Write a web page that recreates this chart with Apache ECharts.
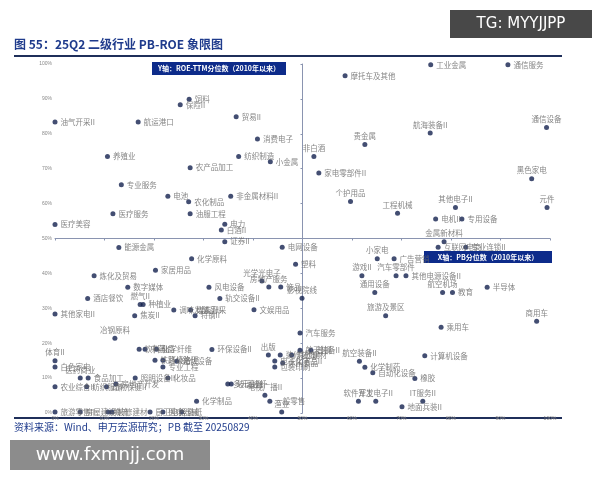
<!DOCTYPE html>
<html><head><meta charset="utf-8">
<script src="https://cdn.jsdelivr.net/npm/echarts@6/dist/echarts.min.js"></script>
<style>html,body{margin:0;padding:0;background:#fff}#c{width:600px;height:480px}</style>
</head><body><div id="c"></div>
<script>
const names = ["饲料","保险II","油气开采II","航运港口","贸易II","消费电子","养殖业","纺织制造","小金属","农产品加工","专业服务","电池","农化制品","非金属材料II","医疗服务","油服工程","电力","医疗美容","白酒II","证券II","能源金属","工业金属","通信服务","摩托车及其他","通信设备","航海装备II","贵金属","非白酒","家电零部件II","黑色家电","个护用品","其他电子II","元件","工程机械","电机II","专用设备","金属新材料","互联网电商","专业连锁II","电网设备","化学原料","塑料","炼化及贸易","家居用品","光学光电子","数字媒体","风电设备","房地产服务","饰品","酒店餐饮","种植业","燃气II","调味发酵品II","轨交设备II","煤炭开采","其他家电II","焦炭II","特钢II","文娱用品","影视院线","小家电","广告营销","游戏II","汽车零部件","其他电源设备II","通用设备","航空机场","教育","半导体","旅游及景区","乘用车","商用车","汽车服务","航天装备II","普钢","冶钢原料","饮料乳品","中药II","化学纤维","环保设备II","出版","装修装饰II","其他建材","电子化学品II","包装印刷","休闲食品","体育II","白色家电","医药商业","食品加工","铁路公路","环境治理","光伏设备","专业工程","照明设备II","化妆品","农业综合II","纺织服饰","动物保健II","房地产开发","多元金融","玻璃玻纤","化学制品","电视广播II","一般零售","旅游零售II","房屋建设II","物流","装修建材","医疗器械","厨卫电器","造纸","渔业","航空装备II","化学制药","自动化设备","计算机设备","橡胶","软件开发","军工电子II","IT服务II","地面兵装II"];
const pbPct = [27.1,25.3,0,16.8,36.6,40.9,10.6,37.1,43.5,27.3,13.4,22.8,27.0,35.5,11.7,27.3,34.3,0,33.6,34.3,12.9,75.9,91.5,58.6,99.3,75.8,62.6,52.3,53.3,96.3,59.7,80.9,99.4,69.2,76.9,82.2,78.6,77.4,83.0,45.9,27.6,48.6,7.9,20.3,41.8,14.7,31.1,43.2,45.6,6.6,17.8,17.2,24.0,33.3,27.4,0,16.1,28.3,40.2,49.9,65.1,68.5,62.0,68.9,70.9,64.6,78.3,80.3,87.3,66.8,78.0,97.3,49.5,49.5,51.7,12.1,17.0,18.2,20.5,31.7,43.1,45.5,47.8,44.4,44.4,46.0,0,0,5.1,6.7,20.2,21.8,24.6,21.8,16.2,22.8,0,6.4,10.4,12.3,34.9,35.6,28.6,42.4,43.4,0,5.1,10.7,11.5,21.8,19.2,25.6,45.8,61.5,62.6,64.2,74.7,72.7,61.3,64.8,74.3,70.1];
const roePct = [89.9,88.3,83.4,83.4,84.9,78.5,73.5,73.5,72.0,70.3,65.4,62.1,60.5,62.1,57.1,57.1,54.1,54.0,52.4,49.1,47.4,99.8,99.8,96.6,81.8,80.2,76.9,73.5,68.8,67.1,60.6,58.9,58.9,57.2,55.6,55.6,49.1,47.5,47.5,47.5,44.2,42.6,39.3,40.9,37.8,36,36,36.1,36.1,32.8,31.1,31.1,29.5,32.8,29.5,28.4,27.9,27.9,29.6,32.9,44.2,44.2,39.3,39.3,39.3,34.5,34.5,34.5,36,27.9,24.6,26.3,22.9,18,18,21.4,18.3,18.3,18.3,18.2,16.6,16.6,16.6,14.9,13.2,14.3,15,13.2,10,10,15.1,15.1,14.8,13.2,10,10,7.5,7.5,7.5,8.3,8.3,8.3,3.4,5.1,3.4,0.3,0.3,0.3,0.3,0.3,0.3,0.3,0.3,14.8,13.1,11.5,16.4,9.9,3.4,3.4,3.4,1.8];
const tickPct = [0,10,20,30,40,50,60,70,80,90,100];
const leftLabels = ["通信设备","黑色家电","元件","非白酒","贵金属","个护用品","工程机械","航海装备II","其他电子II","商用车","小家电","游戏II","汽车零部件","通用设备","旅游及景区","航空机场","航空装备II","软件开发","军工电子II","IT服务II","光学光电子","房地产服务","出版","电视广播II","渔业","冶钢原料","医药商业","体育II","燃气II","影视院线","金属新材料"];

const data = names.map((n,i)=>{
  const d={name:n,value:[pbPct[i]-50,roePct[i]-50]};
  if(leftLabels.includes(n)) d.label={position:'top',distance:2};
  return d;
});
const chart = echarts.init(document.getElementById('c'));
const fmt = v => (v+50)+'%';
chart.setOption({
  animation:false,
  grid:{left:55,right:50,top:64,bottom:67},
  xAxis:{type:'value',min:-50,max:50,interval:10,splitLine:{show:false},
    axisLine:{onZero:true,lineStyle:{color:'#8a94b0'}},axisTick:{show:true,length:2},
    axisLabel:{formatter:fmt,fontSize:5,color:'#888',margin:3}},
  yAxis:{type:'value',min:-50,max:50,interval:10,splitLine:{show:false},
    axisLine:{onZero:true,lineStyle:{color:'#8a94b0'}},axisTick:{show:true,length:2},
    axisLabel:{formatter:fmt,fontSize:5,color:'#888',margin:3}},
  series:[{type:'scatter',data:data,symbolSize:5,itemStyle:{color:'#14224f'},
    label:{show:true,formatter:'{b}',position:'right',distance:3,fontSize:7.5,color:'#666',fontFamily:'Noto Sans CJK SC'},
    labelLayout:{hideOverlap:false}}],
  graphic:[
    {type:'text',left:14,top:38,style:{text:'图 55：25Q2 二级行业 PB-ROE 象限图',fontSize:12,fontWeight:'bold',fill:'#1f3b8c',fontFamily:'Noto Sans CJK SC'}},
    {type:'rect',shape:{x:14,y:55,width:548,height:2},style:{fill:'#1f2f5a'}},
    {type:'rect',shape:{x:14,y:417,width:548,height:2},style:{fill:'#1f2f5a'}},
    {type:'text',left:14,top:422,style:{text:'资料来源：Wind、申万宏源研究；PB 截至 20250829',fontSize:10,fill:'#1f3b8c',fontFamily:'Noto Sans CJK SC'}},
    {type:'rect',shape:{x:152,y:62,width:134,height:13},style:{fill:'#0d2b8a'}},
    {type:'text',x:219,y:68.5,style:{text:'Y轴：ROE-TTM分位数（2010年以来）',fontSize:7,fontWeight:'bold',fill:'#fff',align:'center',verticalAlign:'middle',fontFamily:'Noto Sans CJK SC'}},
    {type:'rect',shape:{x:424,y:251,width:128,height:12},style:{fill:'#0d2b8a'}},
    {type:'text',x:488,y:257,style:{text:'X轴：PB分位数（2010年以来）',fontSize:7,fontWeight:'bold',fill:'#fff',align:'center',verticalAlign:'middle',fontFamily:'Noto Sans CJK SC'}},
    {type:'rect',shape:{x:450,y:10,width:142,height:28},style:{fill:'rgba(40,40,40,0.85)'}},
    {type:'text',x:521,y:24,style:{text:'TG: MYYJJPP',fontSize:15,fill:'#fff',align:'center',verticalAlign:'middle',fontFamily:'DejaVu Sans'}},
    {type:'rect',shape:{x:10,y:440,width:200,height:30},style:{fill:'rgba(120,120,120,0.85)'}},
    {type:'text',x:110,y:455,style:{text:'www.fxmnjj.com',fontSize:18,fill:'#fff',align:'center',verticalAlign:'middle',fontFamily:'DejaVu Sans'}}
  ]
});
</script></body></html>
